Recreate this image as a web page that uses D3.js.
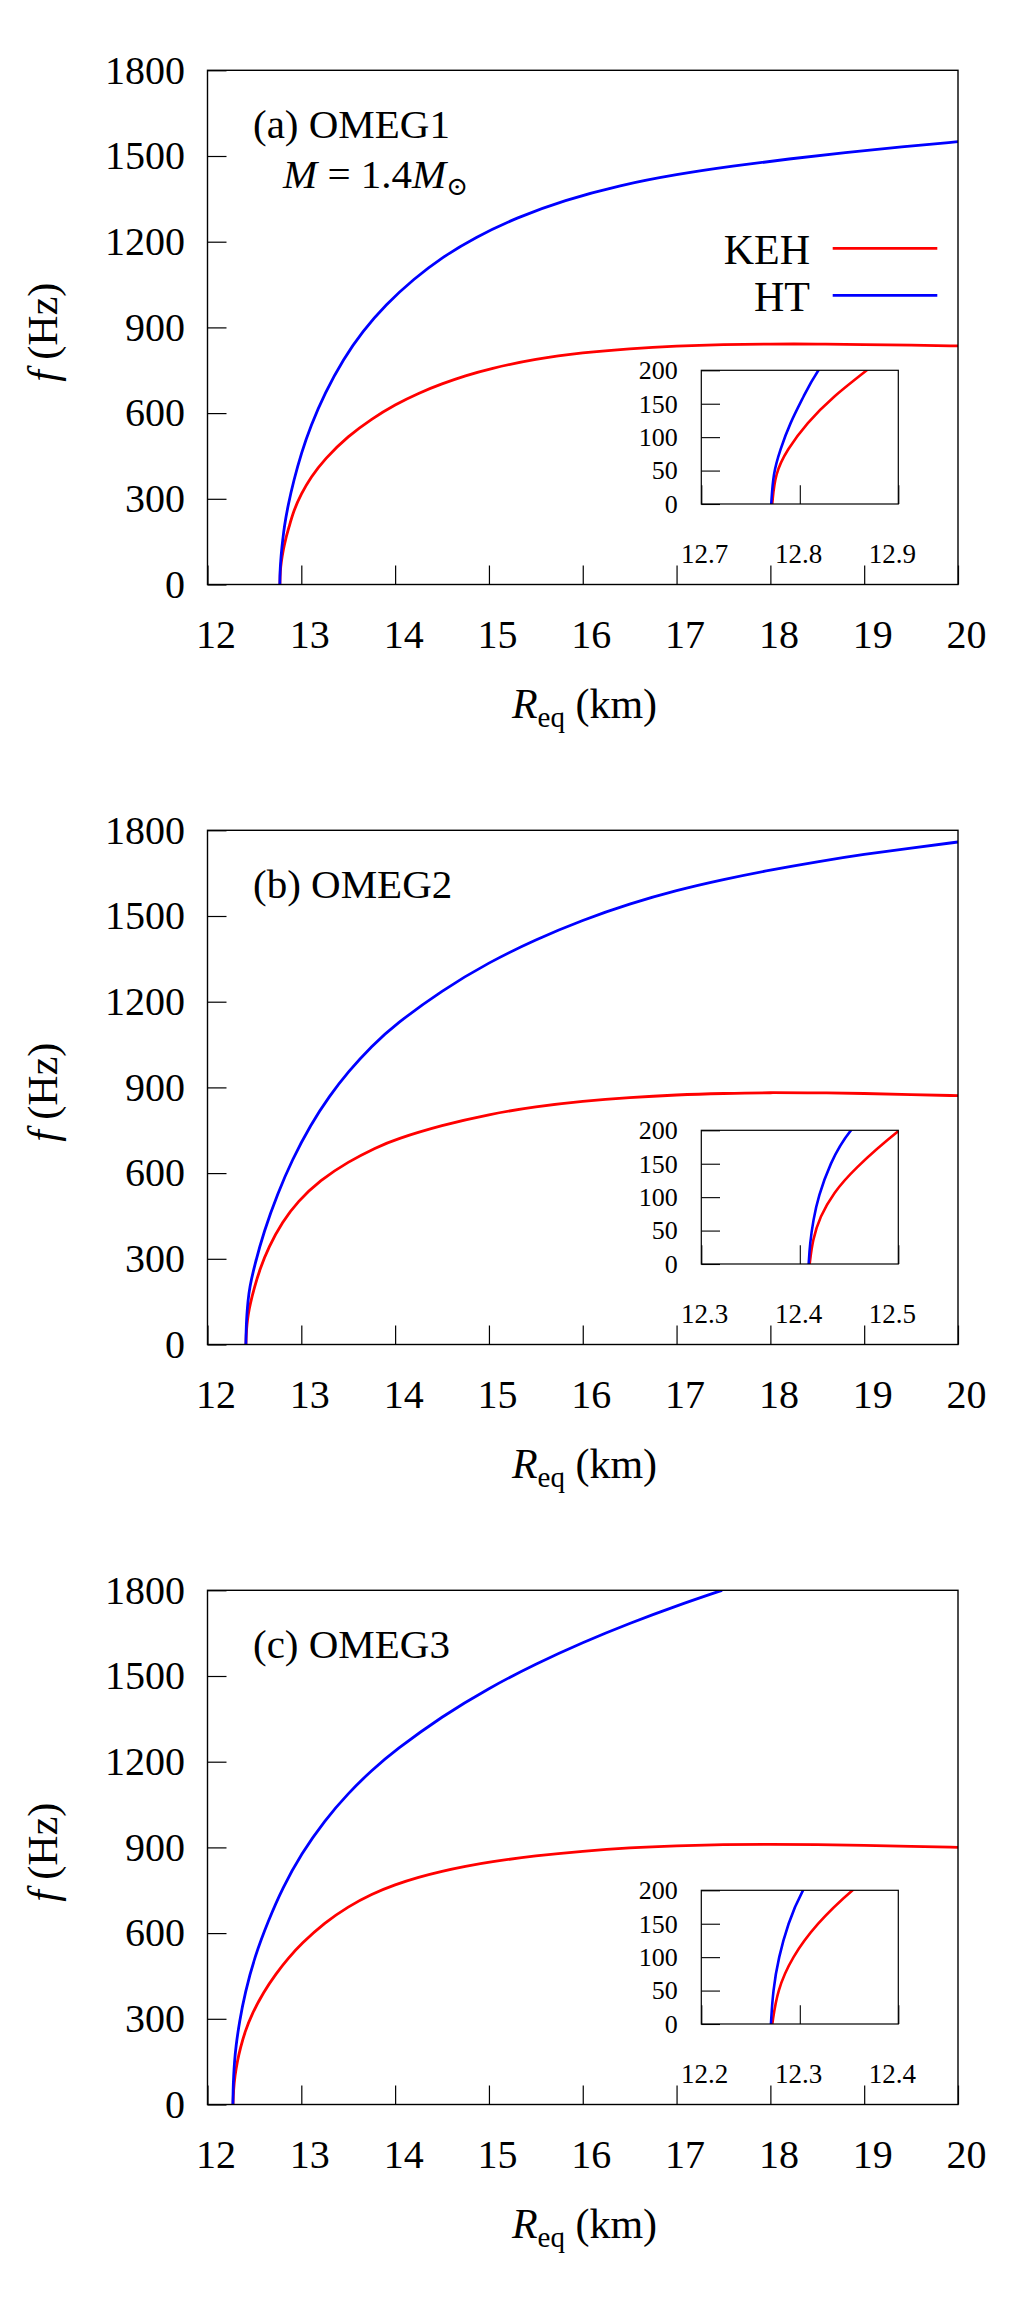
<!DOCTYPE html>
<html><head><meta charset="utf-8">
<script src="https://cdn.jsdelivr.net/npm/d3@7"></script>
<style>
body{margin:0;background:#fff}
text{font-family:"Liberation Serif","Times New Roman",serif;fill:#000}
</style>
</head><body>
<svg id="chart" width="1024" height="2304"></svg>
<script>
// ---------------- data ----------------
const panelLabels = ["(a) OMEG1", "(b) OMEG2", "(c) OMEG3"];
const seriesNames = ["KEH", "HT"];
const seriesColors = ["#ff0000", "#0000ff"];
const xTicks = [12, 13, 14, 15, 16, 17, 18, 19, 20];
const yTicks = [0, 300, 600, 900, 1200, 1500, 1800];
const insetYTicks = [0, 50, 100, 150, 200];
const insetXDomains = [[12.7, 12.9], [12.3, 12.5], [12.2, 12.4]];
const insetXTicks = [[12.7, 12.8, 12.9], [12.3, 12.4, 12.5], [12.2, 12.3, 12.4]];
const insetXLabels = [["12.7", "12.8", "12.9"], ["12.3", "12.4", "12.5"], ["12.2", "12.3", "12.4"]];
const insetLabelAnchors = [17, 18, 19];

// (a) OMEG1
const kehA_R = [12.772, 12.775, 12.787, 12.807, 12.834, 12.868, 12.92, 13.0, 13.1, 13.25, 13.5, 13.75, 14.0, 14.25, 14.5, 14.75, 15.0, 15.5, 16.0, 16.5, 17.0, 17.5, 18.0, 18.5, 19.0, 19.5, 20.0];
const kehA_f = [0, 46, 81, 121, 161, 200, 260, 318, 375, 440, 520, 580, 630, 670, 703, 731, 755, 790, 812, 826, 835, 840, 842, 842, 840, 838, 835];
const htA_R = [12.771, 12.773, 12.780, 12.790, 12.804, 12.817, 12.86, 12.92, 13.0, 13.1, 13.25, 13.45, 13.65, 13.9, 14.2, 14.5, 14.85, 15.3, 15.8, 16.4, 17.0, 17.6, 18.2, 18.8, 19.4, 20.0];
const htA_f = [0, 46, 81, 121, 161, 200, 280, 365, 460, 555, 670, 790, 885, 980, 1070, 1145, 1215, 1285, 1345, 1398, 1436, 1465, 1490, 1512, 1532, 1550];

// (b) OMEG2
const kehB_R = [12.410, 12.413, 12.4205, 12.434, 12.4543, 12.4993, 12.56, 12.65, 12.8, 12.96, 13.2, 13.5, 13.8, 14.0, 14.5, 15.0, 15.5, 16.0, 16.5, 17.0, 17.5, 18.0, 18.5, 19.0, 19.5, 20.0];
const kehB_f = [0, 36, 71, 106, 141, 200, 265, 340, 430, 500, 575, 640, 690, 718, 768, 806, 833, 852, 865, 874, 879, 882, 881, 879, 875, 871];
const htB_R = [12.409, 12.4103, 12.4137, 12.4188, 12.4306, 12.4486, 12.5, 12.6, 12.75, 12.9, 13.1, 13.3, 13.5, 13.75, 14.0, 14.5, 15.0, 15.5, 16.0, 16.5, 17.0, 17.5, 18.0, 18.5, 19.0, 19.5, 20.0];
const htB_f = [0, 31, 66, 101, 150, 200, 275, 395, 530, 645, 770, 870, 955, 1045, 1120, 1240, 1338, 1418, 1486, 1543, 1590, 1628, 1661, 1690, 1716, 1738, 1759];

// (c) OMEG3
const kehC_R = [12.2721, 12.277, 12.292, 12.317, 12.352, 12.40, 12.47, 12.6, 12.73, 12.86, 13.0, 13.25, 13.5, 13.75, 14.0, 14.25, 14.5, 14.75, 15.0, 15.5, 16.0, 16.5, 17.0, 17.5, 18.0, 18.5, 19.0, 19.5, 20.0];
const kehC_f = [0, 50, 100, 150, 200, 255, 315, 395, 458, 512, 563, 637, 693, 737, 770, 796, 817, 834, 849, 871, 887, 899, 906, 910, 911, 910, 907, 904, 900];
const htC_R = [12.2707, 12.2727, 12.2785, 12.288, 12.3015, 12.34, 12.4, 12.5, 12.65, 12.8, 13.0, 13.25, 13.5, 13.75, 14.0, 14.5, 15.0, 15.5, 16.0, 16.5, 17.0, 17.485];
const htC_f = [0, 50, 100, 150, 200, 290, 390, 515, 645, 758, 878, 995, 1090, 1170, 1240, 1359, 1458, 1543, 1618, 1685, 1746, 1800];

const panelSeries = [
  [[kehA_R, kehA_f], [htA_R, htA_f]],
  [[kehB_R, kehB_f], [htB_R, htB_f]],
  [[kehC_R, kehC_f], [htC_R, htC_f]]
];

// ---------------- layout ----------------
const FONT = "Liberation Serif, Times New Roman, serif";
const plotL = 207.5, plotR = 958, panelTop0 = 70.3, panelH = 514.2, panelStep = 760;
const insL = 701.3, insR = 898.3, insTopOff = 300, insBotOff = 433.7;

const svg = d3.select("#chart");
svg.append("rect").attr("width", 1024).attr("height", 2304).attr("fill", "#fff");

const zip = (R, f) => R.map((r, i) => [r, f[i]]);

panelLabels.forEach((label, i) => {
  const top = panelTop0 + i * panelStep;
  const bottom = top + panelH;
  const x = d3.scaleLinear().domain([12, 20]).range([plotL, plotR]);
  const y = d3.scaleLinear().domain([0, 1800]).range([bottom, top]);
  const g = svg.append("g");

  const clipId = "clip" + i;
  svg.append("clipPath").attr("id", clipId).append("rect")
    .attr("x", plotL).attr("y", top).attr("width", plotR - plotL).attr("height", panelH);

  // curves
  const line = d3.line().x(d => x(d[0])).y(d => y(d[1])).curve(d3.curveBasis);
  panelSeries[i].forEach((s, k) => {
    g.append("path").attr("d", line(zip(s[0], s[1])))
      .attr("fill", "none").attr("stroke", seriesColors[k]).attr("stroke-width", 2.8)
      .attr("clip-path", `url(#${clipId})`);
  });

  // x axis
  g.append("g").attr("transform", `translate(0,${bottom})`)
    .call(d3.axisBottom(x).tickValues(xTicks).tickSizeInner(-19).tickSizeOuter(0).tickPadding(0).tickFormat(d3.format("d")))
    .attr("font-size", 40).attr("font-family", FONT)
    .call(a => a.select(".domain").remove())
    .call(a => a.selectAll("line").attr("stroke", "#000").attr("stroke-width", 1.2))
    .call(a => a.selectAll("text").attr("y", 63.5).attr("dy", 0).attr("dx", 8).attr("fill", "#000"));

  // y axis
  g.append("g").attr("transform", `translate(${plotL},0)`)
    .call(d3.axisLeft(y).tickValues(yTicks).tickSizeInner(-19).tickSizeOuter(0).tickPadding(22.5).tickFormat(d3.format("d")))
    .attr("font-size", 40).attr("font-family", FONT)
    .call(a => a.select(".domain").remove())
    .call(a => a.selectAll("line").attr("stroke", "#000").attr("stroke-width", 1.2))
    .call(a => a.selectAll("text").attr("fill", "#000"));

  // frame
  g.append("rect").attr("x", plotL).attr("y", top).attr("width", plotR - plotL).attr("height", panelH)
    .attr("fill", "none").attr("stroke", "#000").attr("stroke-width", 1.4);

  // axis titles
  const yt = g.append("text").attr("transform", `translate(57,${top + 262}) rotate(-90)`)
    .attr("text-anchor", "middle").attr("font-size", 42);
  yt.append("tspan").attr("font-style", "italic").text("f");
  yt.append("tspan").text(" (Hz)");

  const xt = g.append("text").attr("x", 584.5).attr("y", bottom + 133.5)
    .attr("text-anchor", "middle").attr("font-size", 42);
  xt.append("tspan").attr("font-style", "italic").text("R");
  xt.append("tspan").attr("font-size", 29).attr("dy", 9).text("eq");
  xt.append("tspan").attr("dy", -9).text(" (km)");

  // panel label
  g.append("text").attr("x", 253).attr("y", top + 67.7).attr("font-size", 41).text(label);

  if (i === 0) {
    const m = g.append("text").attr("x", 283).attr("y", top + 117.7).attr("font-size", 41);
    m.append("tspan").attr("font-style", "italic").text("M");
    m.append("tspan").text(" = 1.4");
    m.append("tspan").attr("font-style", "italic").text("M");
    m.append("tspan").attr("font-size", 26).attr("dy", 7).attr("font-family", "DejaVu Serif, serif").text("\u2299");

    // legend
    seriesNames.forEach((nm, k) => {
      const ly = top + 178 + k * 47;
      g.append("text").attr("x", 810).attr("y", ly + 15.7).attr("text-anchor", "end")
        .attr("font-size", 42).text(nm);
      g.append("line").attr("x1", 832.7).attr("x2", 937.3).attr("y1", ly).attr("y2", ly)
        .attr("stroke", seriesColors[k]).attr("stroke-width", 2.8);
    });
  }

  // ---------- inset ----------
  const iTop = top + insTopOff, iBot = top + insBotOff;
  const xi = d3.scaleLinear().domain(insetXDomains[i]).range([insL, insR]);
  const yi = d3.scaleLinear().domain([0, 200]).range([iBot, iTop]);
  const ig = svg.append("g");
  const iclip = "iclip" + i;
  svg.append("clipPath").attr("id", iclip).append("rect")
    .attr("x", insL).attr("y", iTop).attr("width", insR - insL).attr("height", iBot - iTop);
  ig.append("rect").attr("x", insL).attr("y", iTop).attr("width", insR - insL).attr("height", iBot - iTop)
    .attr("fill", "#fff");

  const iline = d3.line().x(d => xi(d[0])).y(d => yi(d[1])).curve(d3.curveBasis);
  panelSeries[i].forEach((s, k) => {
    ig.append("path").attr("d", iline(zip(s[0], s[1])))
      .attr("fill", "none").attr("stroke", seriesColors[k]).attr("stroke-width", 2.6)
      .attr("clip-path", `url(#${iclip})`);
  });

  ig.append("g").attr("transform", `translate(${insL},0)`)
    .call(d3.axisLeft(yi).tickValues(insetYTicks).tickSizeInner(-18.7).tickSizeOuter(0).tickPadding(23.6).tickFormat(d3.format("d")))
    .attr("font-size", 26).attr("font-family", FONT)
    .call(a => a.select(".domain").remove())
    .call(a => a.selectAll("line").attr("stroke", "#000").attr("stroke-width", 1.1))
    .call(a => a.selectAll("text").attr("fill", "#000"));

  ig.append("g").attr("transform", `translate(0,${iBot})`)
    .call(d3.axisBottom(xi).tickValues(insetXTicks[i]).tickSizeInner(-18.7).tickSizeOuter(0).tickFormat(""))
    .call(a => a.select(".domain").remove())
    .call(a => a.selectAll("line").attr("stroke", "#000").attr("stroke-width", 1.1));

  ig.append("rect").attr("x", insL).attr("y", iTop).attr("width", insR - insL).attr("height", iBot - iTop)
    .attr("fill", "none").attr("stroke", "#000").attr("stroke-width", 1.2);

  insetXLabels[i].forEach((t, k) => {
    ig.append("text").attr("x", x(insetLabelAnchors[k]) + 4.5).attr("y", bottom - 21.8)
      .attr("font-size", 27).attr("text-anchor", "start").text(t);
  });
});
</script>
</body></html>
